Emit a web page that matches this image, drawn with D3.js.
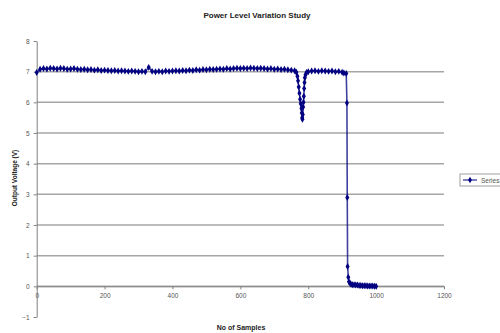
<!DOCTYPE html>
<html>
<head>
<meta charset="utf-8">
<script src="https://cdn.jsdelivr.net/npm/d3@7"></script>
<style>
  body { margin: 0; background: #fff; }
  svg { font-family: "Liberation Sans", Arial, sans-serif; }
  .grid line { stroke: #a6a6a6; stroke-width: 1.5; }
  .axis path, .axis line { stroke: #808080; }
  .axis text { fill: #555; font-size: 6.5px; }
</style>
</head>
<body>
<svg id="chart" width="500" height="333"></svg>
<script>
// sample numbers (denser where the curve moves)
const sampleNo = [
    0, 10, 20, 30, 40, 50, 60, 70, 80, 90,
    100, 110, 120, 130, 140, 150, 160, 170, 180, 190,
    200, 210, 220, 230, 240, 250, 260, 270, 280, 290,
    300, 310, 320, 330, 340, 350, 360, 370, 380, 390,
    400, 410, 420, 430, 440, 450, 460, 470, 480, 490,
    500, 510, 520, 530, 540, 550, 560, 570, 580, 590,
    600, 610, 620, 630, 640, 650, 660, 670, 680, 690,
    700, 710, 720, 730, 740, 750, 760,
    765, 768, 770, 772, 774, 776, 778, 780, 781, 782, 783, 784, 785, 786, 787, 788, 789, 790, 792, 795,
    800, 810, 820, 830, 840, 850, 860, 870, 880, 890, 900, 905, 912,
    914, 915, 916, 918, 920, 923, 926, 930, 935, 940, 945, 950, 955, 960, 965, 970, 975, 980, 985, 990, 995, 1000
];

const voltage = [
    6.97, 7.08, 7.10, 7.09, 7.11, 7.10, 7.09, 7.11, 7.10, 7.08,
    7.09, 7.10, 7.08, 7.07, 7.08, 7.06, 7.07, 7.05, 7.06, 7.04,
    7.05, 7.04, 7.03, 7.04, 7.02, 7.03, 7.02, 7.01, 7.02, 7.01,
    7.00, 7.01, 7.00, 7.14, 7.01, 7.00, 7.01, 7.00, 7.02, 7.01,
    7.02, 7.03, 7.02, 7.04, 7.03, 7.05, 7.04, 7.06, 7.05, 7.07,
    7.06, 7.08, 7.07, 7.08, 7.09, 7.08, 7.10, 7.09, 7.10, 7.11,
    7.10, 7.11, 7.10, 7.12, 7.11, 7.10, 7.11, 7.10, 7.09, 7.10,
    7.08, 7.09, 7.07, 7.08, 7.06, 7.05, 7.03,
    6.98, 6.85, 6.70, 6.50, 6.30, 6.10, 5.95, 5.80, 5.65, 5.50, 5.45, 5.60, 5.85, 6.00, 6.20, 6.45, 6.65, 6.80, 6.90, 6.97,
    7.00, 7.02, 7.03, 7.01, 7.03, 7.02, 7.01, 7.02, 7.00, 7.01, 6.98, 6.96, 6.94,
    5.98, 2.90, 0.65, 0.30, 0.15, 0.10, 0.07, 0.05, 0.05, 0.04, 0.04, 0.03, 0.03, 0.02, 0.02, 0.02, 0.01, 0.01, 0.01, 0.01, 0.00, 0.00
];

const xTicks = [0, 200, 400, 600, 800, 1000, 1200];
const yTicks = [-1, 0, 1, 2, 3, 4, 5, 6, 7, 8];
const gridValues = [0, 1, 2, 3, 4, 5, 6, 7];

const points = sampleNo.map((s, i) => ({ s: s, v: voltage[i] }));

const svg = d3.select("#chart");

const x = d3.scaleLinear().domain([0, 1200]).range([36.7, 444]);
const y = d3.scaleLinear().domain([-1, 8]).range([317, 41]);

// horizontal gridlines
svg.append("g")
    .attr("class", "grid")
    .selectAll("line")
    .data(gridValues)
    .join("line")
    .attr("x1", x(0))
    .attr("x2", x(1200))
    .attr("y1", d => y(d))
    .attr("y2", d => y(d));

// y axis
svg.append("g")
    .attr("class", "axis")
    .attr("transform", `translate(${x(0)},0)`)
    .call(d3.axisLeft(y).tickValues(yTicks).tickFormat(d3.format("d"))
        .tickSize(3).tickSizeOuter(0).tickPadding(4));

// x axis sits on value 0
svg.append("g")
    .attr("class", "axis")
    .attr("transform", `translate(0,${y(0)})`)
    .call(d3.axisBottom(x).tickValues(xTicks).tickFormat(d3.format("d"))
        .tickSize(3).tickSizeOuter(0).tickPadding(4));

// series line
const line = d3.line().x(d => x(d.s)).y(d => y(d.v));

svg.append("path")
    .datum(points)
    .attr("fill", "none")
    .attr("stroke", "#000080")
    .attr("stroke-width", 1.6)
    .attr("stroke-opacity", 0.75)
    .attr("d", line);

const diamond = d3.symbol().type(d3.symbolDiamond).size(14);

svg.append("g")
    .selectAll("path")
    .data(points)
    .join("path")
    .attr("transform", d => `translate(${x(d.s)},${y(d.v)})`)
    .attr("d", diamond)
    .attr("fill", "#000080");

// titles
svg.append("text")
    .attr("x", 257)
    .attr("y", 18)
    .attr("text-anchor", "middle")
    .attr("font-size", "8px")
    .attr("font-weight", "bold")
    .attr("fill", "#222")
    .text("Power Level Variation Study");

svg.append("text")
    .attr("transform", "translate(17,178) rotate(-90)")
    .attr("text-anchor", "middle")
    .attr("font-size", "6.5px")
    .attr("font-weight", "bold")
    .attr("fill", "#222")
    .text("Output Voltage (V)");

svg.append("text")
    .attr("x", 241)
    .attr("y", 330)
    .attr("text-anchor", "middle")
    .attr("font-size", "7px")
    .attr("font-weight", "bold")
    .attr("fill", "#222")
    .text("No of Samples");

// legend (cut off by the right edge, as in the original)
const legend = svg.append("g").attr("transform", "translate(460,174)");

legend.append("rect")
    .attr("width", 60)
    .attr("height", 12)
    .attr("fill", "#fff")
    .attr("stroke", "#888")
    .attr("stroke-width", 0.8);

legend.append("line")
    .attr("x1", 3).attr("x2", 17)
    .attr("y1", 6).attr("y2", 6)
    .attr("stroke", "#000080")
    .attr("stroke-width", 1);

legend.append("path")
    .attr("transform", "translate(10,6)")
    .attr("d", d3.symbol().type(d3.symbolDiamond).size(12))
    .attr("fill", "#000080");

legend.append("text")
    .attr("x", 21)
    .attr("y", 8.5)
    .attr("font-size", "6.5px")
    .attr("fill", "#555")
    .text("Series1");
</script>
</body>
</html>
